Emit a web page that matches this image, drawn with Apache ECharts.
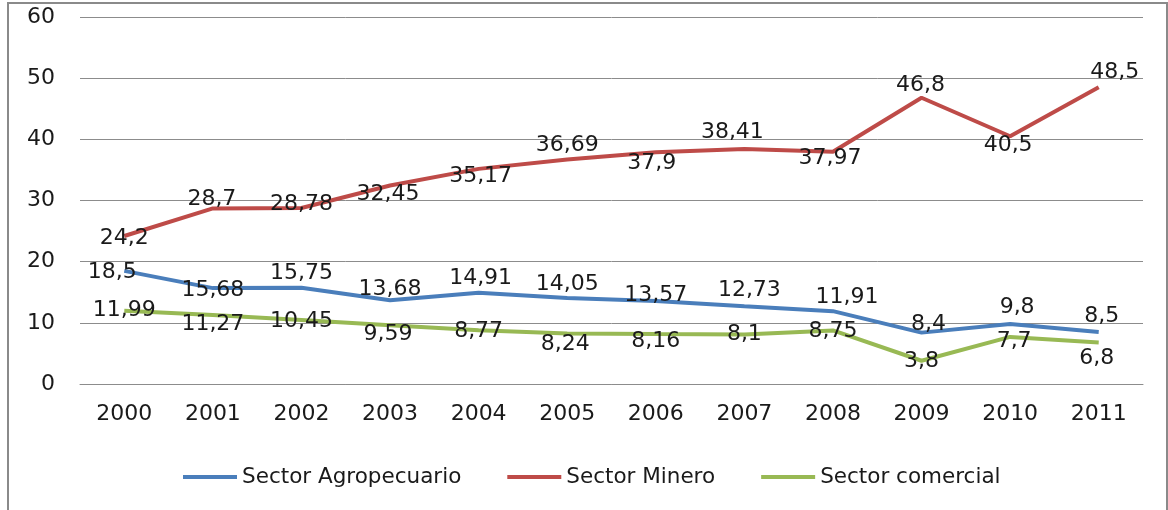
<!DOCTYPE html>
<html>
<head>
    <meta charset="UTF-8">
    <title>Sectores</title>
    <script src="https://cdn.jsdelivr.net/npm/echarts@6/dist/echarts.min.js"></script>
    <style>
        body { margin: 0; background: #fff; }
        #chart { position: absolute; left: 0; top: 0; width: 1168px; height: 510px; }
        #frame { position: absolute; left: 7px; top: 2px; width: 1157px; height: 520px;
                 border: 2px solid #8a8a8a; pointer-events: none; }
    </style>
</head>
<body>
    <div id="chart"></div>
    <div id="frame"></div>

<script type="text/javascript">
    // datos
    var years = ['2000','2001','2002','2003','2004','2005','2006','2007','2008','2009','2010','2011'];
    var agro = [18.5, 15.68, 15.75, 13.68, 14.91, 14.05, 13.57, 12.73, 11.91, 8.4, 9.8, 8.5];
    var minero = [24.2, 28.7, 28.78, 32.45, 35.17, 36.69, 37.9, 38.41, 37.97, 46.8, 40.5, 48.5];
    var comercial = [11.99, 11.27, 10.45, 9.59, 8.77, 8.24, 8.16, 8.1, 8.75, 3.8, 7.7, 6.8];

    // desplazamiento de etiquetas (px)
    var agroOff = [[-12,1],[0,2],[0,-14],[0,-11],[2,-15],[0,-14],[0,-6],[5,-16],[14,-14],[7,-8],[7,-17],[3,-16]];
    var mineroOff = [[0,2],[-1,-9],[0,-4],[-2,9],[2,7],[0,-14],[-4,11],[-12,-17],[-3,7],[-1,-12],[-2,9],[16,-15]];
    var comOff = [[0,0],[0,9],[0,1],[-2,9],[0,1],[-2,11],[0,7],[0,0],[0,1],[0,1],[4,4],[-2,16]];

    var font = 'DejaVu Sans';

    function build(name, vals, offs, color) {
        return {
            name: name,
            type: 'line',
            symbol: 'circle',
            symbolSize: 0,
            lineStyle: { width: 4, color: color },
            itemStyle: { color: color },
            data: vals.map(function (v, i) {
                return { value: v, label: { offset: offs[i] } };
            }),
            label: {
                show: true,
                position: 'inside',
                color: '#1a1a1a',
                fontFamily: font,
                fontSize: 22,
                formatter: function (p) { return String(p.value).replace('.', ','); }
            },
            emphasis: { disabled: true }
        };
    }

    var myChart = echarts.init(document.getElementById('chart'));

    var option = {
        backgroundColor: '#fff',
        animation: false,
        grid: { left: 80, right: 25, top: 17, bottom: 126 },
        legend: {
            bottom: 17,
            left: 178,
            icon: 'rect',
            itemWidth: 54,
            itemHeight: 4,
            itemGap: 46,
            textStyle: { fontFamily: font, fontSize: 21.5, color: '#1a1a1a' },
            data: ['Sector Agropecuario', 'Sector Minero', 'Sector comercial']
        },
        xAxis: {
            type: 'category',
            boundaryGap: true,
            data: years,
            axisLine: { lineStyle: { color: '#8c8c8c', width: 1 } },
            axisTick: { show: false },
            axisLabel: { fontFamily: font, fontSize: 22, color: '#1a1a1a', margin: 19 }
        },
        yAxis: {
            type: 'value',
            min: 0,
            max: 60,
            interval: 10,
            axisLine: { show: false },
            axisTick: { show: false },
            splitLine: { lineStyle: { color: '#8c8c8c', width: 1 } },
            axisLabel: { fontFamily: font, fontSize: 22, color: '#1a1a1a', margin: 25 }
        },
        series: [
            build('Sector Agropecuario', agro, agroOff, '#4a7ebb'),
            build('Sector Minero', minero, mineroOff, '#be4b48'),
            build('Sector comercial', comercial, comOff, '#98b954')
        ]
    };
    myChart.setOption(option);
</script>
</body>
</html>
